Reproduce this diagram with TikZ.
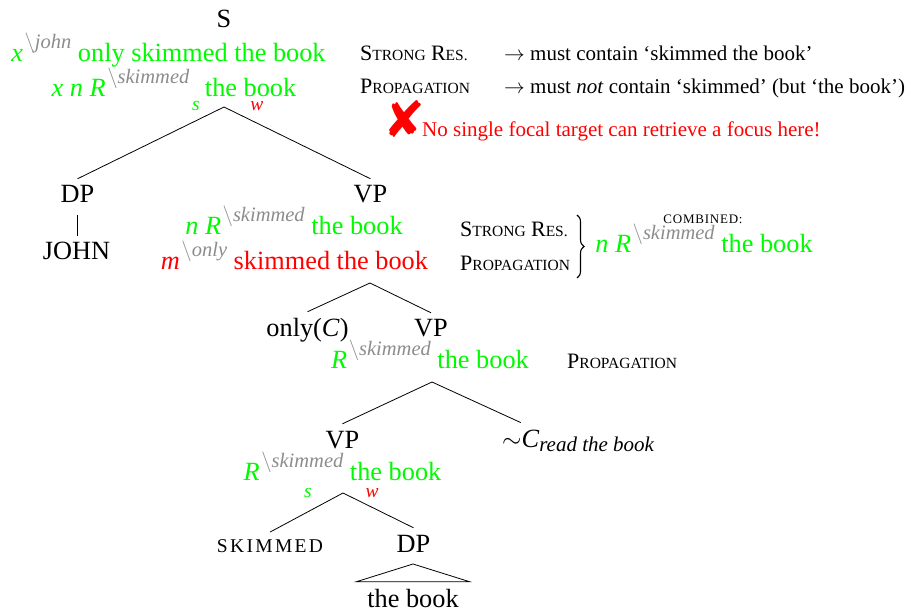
\documentclass[tikz,border=0pt]{standalone}
\usepackage{fontspec}
\setmainfont{Liberation Serif}
\newfontfamily\dejavu{DejaVu Sans}
\usepackage{graphicx}
\usetikzlibrary{decorations.pathreplacing}
\definecolor{fgreen}{RGB}{0,250,0}
\definecolor{fred}{RGB}{255,0,0}
\definecolor{fgray}{RGB}{140,140,140}
\newcommand\gsup[1]{\raisebox{13pt}{\fontsize{20.5}{22}\selectfont\color{fgray}\hspace{1.5pt}$\backslash$\textit{#1}}}
\newcommand\scA[2]{{\fontsize{22}{24}\selectfont #1}{\fontsize{15.5}{17}\selectfont #2}}
\tikzset{
  txt/.style={font=\fontsize{26.3}{30}\selectfont, inner sep=0pt, anchor=base},
  ann/.style={txt, font=\fontsize{21}{25}\selectfont, anchor=base west},
  tnode/.style={txt, outer ysep=7pt},
  gtxt/.style={txt, text=fgreen},
  rtxt/.style={txt, text=fred},
  lbl/.style={txt, font=\fontsize{19.5}{21}\selectfont\itshape},
  edge/.style={line width=0.8pt}
}
\begin{document}
\begin{tikzpicture}[x=1pt,y=-1pt]
\useasboundingbox (0,0) rectangle (911,612);
% top
\node[tnode] (S) at (224,28) {S};
\node[gtxt] (L1) at (168.5,62) {\textit{x}\gsup{john} only skimmed the book};
\node[gtxt] (L2) at (174,97) {\textit{x n R}\gsup{skimmed}\hspace{9pt} the book};
\node[lbl,text=fgreen] (s1) at (196,111) {s};
\node[lbl,text=fred] (w1) at (257,111) {w};
\coordinate (a1) at (224,107);
\node[tnode] (DP) at (77.5,203) {DP};
\node[tnode] (VP) at (370.5,203) {VP};
\node[tnode] (JOHN) at (76.5,260) {JOHN};
\draw[edge] (DP.north) -- (a1) -- (VP.north);
\draw[edge] ([yshift=-5pt]DP.south) -- (DP.south |- JOHN.north);
% right annotations top
\node[ann] (sr1) at (360,61) {\scA{S}{TRONG} \scA{R}{ES.}};
\node[ann] (ar1) at (504,61) {$\rightarrow$ must contain ‘skimmed the book’};
\node[ann] (pr1) at (360,94) {\scA{P}{ROPAGATION}};
\node[ann] (ar2) at (504,94) {$\rightarrow$ must \textit{not} contain ‘skimmed’ (but ‘the book’)};
\node[txt,anchor=center,text=fred] (X) at (404.5,119) {\dejavu\fontsize{50}{52}\selectfont ✘};
\node[ann,text=fred] (no) at (422,137) {No single focal target can retrieve a focus here!};
% VP level
\node[gtxt] (VPg) at (294,235) {\textit{n R}\gsup{skimmed} the book};
\node[rtxt] (VPr) at (294.5,270) {\textit{m}\gsup{only} skimmed the book};
\node[ann] (sr2) at (460,237) {\scA{S}{TRONG} \scA{R}{ES.}};
\node[ann] (pr2) at (460,271) {\scA{P}{ROPAGATION}};
\draw[edge, line width=1.1pt, decorate, decoration={brace, amplitude=7pt}] (577,215) -- (577,278);
\node[txt] (comb) at (703,224) {\fontsize{13}{14}\selectfont\addfontfeature{LetterSpace=6}COMBINED:};
\node[gtxt] (combg) at (704,253) {\textit{n R}\gsup{skimmed} the book};
\coordinate (a2) at (370,283);
\node[tnode] (onlyC) at (307.5,337) {only(\textit{C})};
\node[tnode] (VP2) at (431,337) {VP};
\draw[edge] (onlyC.north) -- (a2) -- (VP2.north);
\node[gtxt] (VP2g) at (430,369) {\textit{R}\gsup{skimmed} the book};
\node[ann] (pr3) at (567,369) {\scA{P}{ROPAGATION}};
\coordinate (a3) at (432,382);
\node[tnode] (VP3) at (342.5,448) {VP};
\node[tnode,anchor=base west] (C) at (502,447) {$\sim$\textit{C}\rlap{\raisebox{-5pt}{\fontsize{21}{23}\selectfont\itshape read the book}}};
\draw[edge] (VP3.north) -- (a3) -- (C.north);
\node[gtxt] (VP3g) at (342.5,480) {\textit{R}\gsup{skimmed} the book};
\node[lbl,text=fgreen] (s2) at (308,497) {s};
\node[lbl,text=fred] (w2) at (372,497) {w};
\coordinate (a4) at (343,493);
\node[tnode] (SK) at (270,552) {\fontsize{19.5}{21}\selectfont\addfontfeature{LetterSpace=12}SKIMMED};
\node[tnode] (DP2) at (413.5,552) {DP};
\draw[edge] (SK.north) -- (a4) -- (DP2.north);
\coordinate (t1) at (413,564);
\node[tnode, minimum width=113pt] (book) at (413,607) {the book};
\draw[edge] (t1) -- (book.north west) -- (book.north east) -- cycle;
\end{tikzpicture}
\end{document}
